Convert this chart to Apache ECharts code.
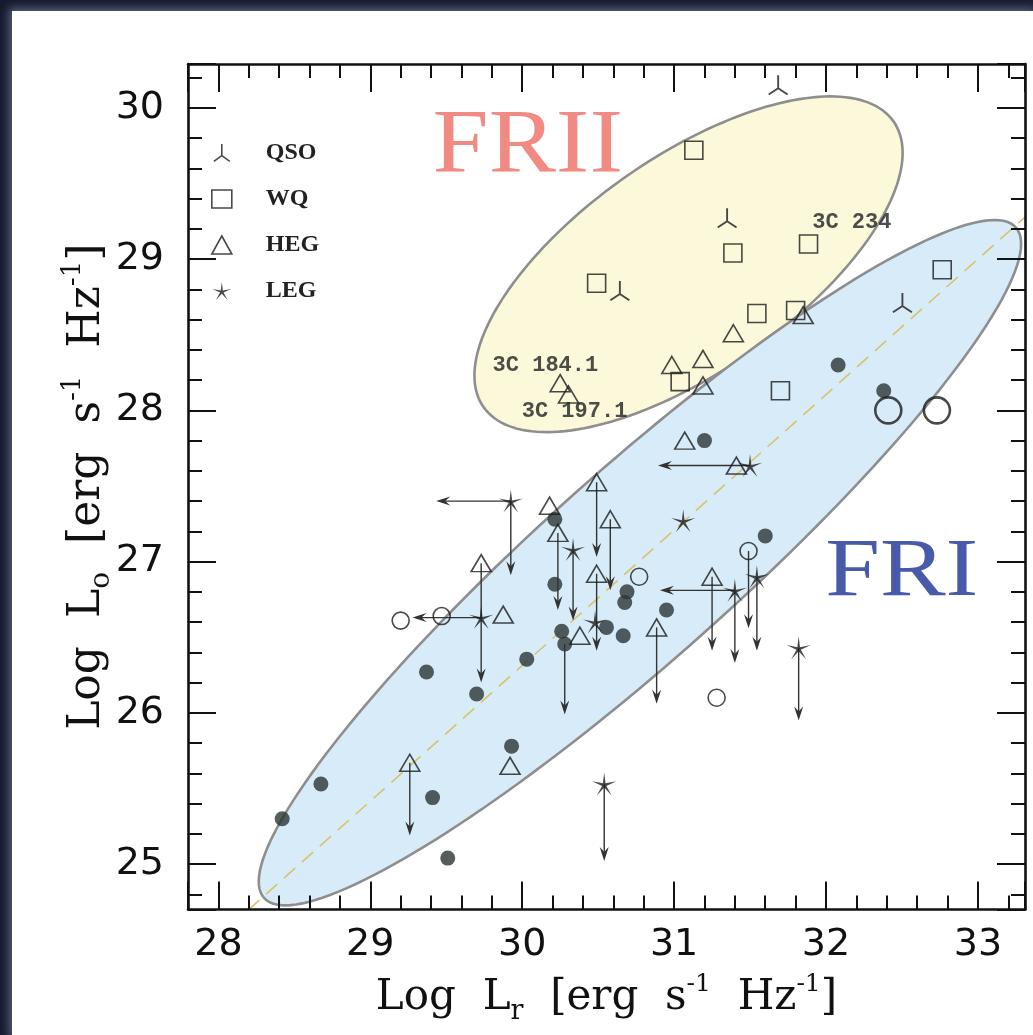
<!DOCTYPE html>
<html>
<head>
<meta charset="utf-8">
<script src="https://cdn.jsdelivr.net/npm/echarts@6/dist/echarts.min.js"></script>
<style>
  html, body { margin: 0; padding: 0; width: 1033px; height: 1035px; overflow: hidden; background: #151a2e; }
  #panel { position: absolute; left: 12px; top: 11px; right: 0; bottom: 0; background: #fff;
           box-shadow: 0 0 9px 3px rgba(150, 160, 190, 0.55); }
  #chart { position: absolute; left: 0; top: 0; width: 1033px; height: 1035px; }
</style>
</head>
<body>
<div id="panel"></div>
<div id="chart"></div>
<script>
// ---- axis extents and labelled ticks ----
const xRange = [27.8, 33.31];
const yRange = [24.7, 30.29];
const xLabels = [28, 29, 30, 31, 32, 33];
const yLabels = [25, 26, 27, 28, 29, 30];

// ---- sources: [log Lr, log Lo] ----
const qso = [[31.685, 30.15], [31.349, 29.27], [30.643, 28.79], [32.503, 28.71]];
const wq = [[31.13, 29.72], [31.387, 29.04], [31.885, 29.10], [32.765, 28.93], [31.545, 28.64],
            [31.80, 28.66], [31.70, 28.13], [31.04, 28.19], [30.49, 28.84]];
const heg = [[31.39, 28.51], [31.19, 28.34], [30.985, 28.30], [31.19, 28.165], [31.85, 28.63],
             [31.07, 27.80], [30.25, 28.18], [30.305, 28.105], [30.49, 27.525], [30.58, 27.28],
             [30.18, 27.37], [30.235, 27.19], [29.73, 26.99], [30.49, 26.92], [29.875, 26.65],
             [31.25, 26.90], [30.38, 26.51], [30.885, 26.565], [31.41, 27.635], [29.26, 25.67],
             [29.92, 25.65]];
const leg = [[29.925, 27.40], [30.335, 27.08], [31.06, 27.27], [31.50, 27.635], [31.40, 26.81],
             [31.545, 26.90], [30.48, 26.60], [31.82, 26.43], [30.54, 25.53], [29.73, 26.63]];
const fri = [[30.215, 27.28], [30.215, 26.85], [30.69, 26.80], [30.675, 26.73], [31.60, 27.17],
             [30.95, 26.68], [30.26, 26.54], [30.28, 26.455], [30.555, 26.565], [30.665, 26.51],
             [30.03, 26.355], [29.37, 26.27], [29.70, 26.125], [29.93, 25.78], [28.675, 25.53],
             [28.42, 25.30], [29.41, 25.44], [29.51, 25.04], [32.08, 28.30], [32.38, 28.13],
             [31.20, 27.80]];
const openSmall = [[30.77, 26.90], [31.49, 27.07], [31.28, 26.10], [29.47, 26.64], [29.20, 26.61]];
const openLarge = [[32.41, 28.0], [32.73, 28.0]];

// ---- limits: [x, y, y of arrow tip] and [x, y, x of arrow tip] ----
const upperLimits = [[29.73, 26.99, 26.20], [29.26, 25.67, 25.19], [30.49, 27.525, 27.03],
                     [30.58, 27.28, 26.81], [30.235, 27.19, 26.68], [30.49, 26.92, 26.41],
                     [31.25, 26.90, 26.41], [30.885, 26.565, 26.06], [29.925, 27.40, 26.91],
                     [30.335, 27.08, 26.61], [31.40, 26.81, 26.33], [31.545, 26.90, 26.41],
                     [31.49, 27.07, 26.56], [31.82, 26.43, 25.95], [30.54, 25.53, 25.02],
                     [30.28, 26.455, 25.99]];
const leftLimits = [[29.925, 27.40, 29.434], [31.50, 27.635, 30.894], [31.40, 26.81, 30.907],
                    [29.73, 26.63, 29.278]];

// ---- correlation line end points ----
const fitLine = [[28.196, 24.696], [33.31, 29.278]];

// ---- populations: [centre x, centre y, semi-major, semi-minor, tilt in degrees] ----
const regionFRII = [31.095, 28.966, 1.647, 0.711, 35];
const regionFRI = [30.775, 26.993, 3.322, 0.627, 41.86];

// ---- annotations: [text, x, y] ----
const sourceNames = [['3C 234', 31.909, 29.244], ['3C 184.1', 29.805, 28.297], ['3C 197.1', 29.997, 27.99]];
const classNames = [['FRII', 29.41, 29.733], ['FRI', 31.995, 26.924]];

// ---- marker shapes ----
function seg(x1, y1, x2, y2, w) {
  const dx = x2 - x1, dy = y2 - y1, L = Math.hypot(dx, dy);
  const nx = -dy / L * w / 2, ny = dx / L * w / 2;
  const f = v => v.toFixed(2);
  return 'M' + f(x1 + nx) + ' ' + f(y1 + ny) + 'L' + f(x2 + nx) + ' ' + f(y2 + ny) +
         'L' + f(x2 - nx) + ' ' + f(y2 - ny) + 'L' + f(x1 - nx) + ' ' + f(y1 - ny) + 'Z';
}
const qsoSymbol = 'path://' + seg(20, 0, 20, 27, 3.4) + seg(20, 25, 3, 37, 3.4) + seg(20, 25, 37, 37, 3.4);
function starSymbol(n, rOut, rIn) {
  let d = '';
  for (let i = 0; i < 2 * n; i++) {
    const r = i % 2 ? rIn : rOut;
    const a = -Math.PI / 2 + i * Math.PI / n;
    d += (i ? 'L' : 'M') + (50 + r * Math.cos(a)).toFixed(2) + ' ' + (50 + r * Math.sin(a)).toFixed(2);
  }
  return 'path://' + d + 'Z';
}
const legSymbol = starSymbol(5, 50, 9);

const ink = '#1c1c1c';
const openStyle = { color: 'rgba(255,255,255,0)', borderColor: ink, borderWidth: 1.6 };

// ---- axes ----
const isLabelled = (v, list) => Math.abs(v - Math.round(v)) < 1e-6 && list.indexOf(Math.round(v)) >= 0;
const axisFont = { fontFamily: 'DejaVu Sans', fontSize: 38, color: '#111' };
function titleRich(size) {
  const fam = 'DejaVu Serif';
  return {
    n: { fontFamily: fam, fontSize: size, lineHeight: Math.round(size * 1.28), color: '#111' },
    sub: { fontFamily: fam, fontSize: Math.round(size * 0.64), lineHeight: Math.round(size * 0.64),
           verticalAlign: 'bottom', color: '#111' },
    sup: { fontFamily: fam, fontSize: Math.round(size * 0.6), lineHeight: Math.round(size * 0.6),
           verticalAlign: 'top', color: '#111' }
  };
}

function makeAxis(pos, range, step, tickLen, opts) {
  const ax = {
    type: 'value', position: pos, min: range[0], max: range[1],
    minInterval: step, maxInterval: step, splitNumber: Math.round((range[1] - range[0]) / step),
    splitLine: { show: false },
    axisLine: { show: false },
    axisTick: { show: true, inside: true, length: tickLen, lineStyle: { color: '#111', width: 2 } },
    axisLabel: { show: false },
    z: 10
  };
  return Object.assign(ax, opts || {});
}
const frameLine = { show: true, lineStyle: { color: '#111', width: 2.6 } };

const xAxes = [
  makeAxis('bottom', xRange, 0.2, 14, {
    axisLine: frameLine,
    axisLabel: Object.assign({ show: true, margin: 17,
      formatter: v => isLabelled(v, xLabels) ? String(Math.round(v)) : '' }, axisFont),
    name: '{n|Log  L}{sub|r}{n|  [erg  s}{sup|-1}{n|  Hz}{sup|-1}{n|]}',
    nameLocation: 'middle', nameGap: 62, nameMoveOverlap: false, nameTextStyle: { rich: titleRich(42) }
  }),
  makeAxis('bottom', xRange, 1, 28),
  makeAxis('top', xRange, 0.2, 14, { axisLine: frameLine }),
  makeAxis('top', xRange, 1, 28)
];
const yAxes = [
  makeAxis('left', yRange, 0.2, 14, {
    axisLine: frameLine,
    axisLabel: Object.assign({ show: true, margin: 24,
      formatter: v => isLabelled(v, yLabels) ? String(Math.round(v)) : '' }, axisFont),
    name: '{n|Log  L}{sub|o}{n|  [erg  s}{sup|-1}{n|  Hz}{sup|-1}{n|]}',
    nameLocation: 'middle', nameGap: 72, nameMoveOverlap: false, nameTextStyle: { rich: titleRich(44) }
  }),
  makeAxis('left', yRange, 1, 28),
  makeAxis('right', yRange, 0.2, 14, { axisLine: frameLine }),
  makeAxis('right', yRange, 1, 28)
];

// ---- series ----
const regionFills = ['#fbf9d9', '#d7ecf8'];
const regionSeries = {
  type: 'custom', name: 'regions', silent: true, z: 1,
  data: [regionFRII, regionFRI],
  renderItem: function (params, api) {
    const cx = api.value(0), cy = api.value(1), a = api.value(2), b = api.value(3);
    const t0 = api.value(4) * Math.PI / 180;
    const pts = [];
    for (let i = 0; i < 180; i++) {
      const t = i / 180 * 2 * Math.PI;
      const ex = a * Math.cos(t), ey = b * Math.sin(t);
      pts.push(api.coord([cx + ex * Math.cos(t0) - ey * Math.sin(t0), cy + ex * Math.sin(t0) + ey * Math.cos(t0)]));
    }
    return { type: 'polygon', shape: { points: pts },
             style: { fill: regionFills[params.dataIndex], stroke: '#8e8e8e', lineWidth: 2.6 } };
  }
};

const fitSeries = {
  type: 'line', name: 'fit', data: fitLine, symbol: 'none', silent: true, z: 2,
  lineStyle: { color: '#d9c26c', width: 1.6, type: [15, 9] }
};

const arrowInk = '#333';
function downArrow(params, api) {
  const p0 = api.coord([api.value(0), api.value(1)]);
  const p1 = api.coord([api.value(0), api.value(2)]);
  return { type: 'group', children: [
    { type: 'line', shape: { x1: p0[0], y1: p0[1], x2: p1[0], y2: p1[1] - 6 }, style: { stroke: arrowInk, lineWidth: 1.4 } },
    { type: 'polygon', shape: { points: [[p1[0], p1[1]], [p1[0] - 4.5, p1[1] - 14], [p1[0], p1[1] - 9], [p1[0] + 4.5, p1[1] - 14]] },
      style: { fill: arrowInk } }
  ] };
}
function leftArrow(params, api) {
  const p0 = api.coord([api.value(0), api.value(1)]);
  const p1 = api.coord([api.value(2), api.value(1)]);
  return { type: 'group', children: [
    { type: 'line', shape: { x1: p0[0], y1: p0[1], x2: p1[0] + 6, y2: p1[1] }, style: { stroke: arrowInk, lineWidth: 1.4 } },
    { type: 'polygon', shape: { points: [[p1[0], p1[1]], [p1[0] + 14, p1[1] - 4.5], [p1[0] + 9, p1[1]], [p1[0] + 14, p1[1] + 4.5]] },
      style: { fill: arrowInk } }
  ] };
}

const series = [
  regionSeries,
  fitSeries,
  { type: 'custom', name: 'upper', data: upperLimits, renderItem: downArrow, silent: true, z: 3 },
  { type: 'custom', name: 'left', data: leftLimits, renderItem: leftArrow, silent: true, z: 3 },
  { type: 'scatter', name: 'core', data: fri, symbol: 'circle', symbolSize: 15, z: 4,
    itemStyle: { color: '#2a3434' } },
  { type: 'scatter', name: 'open', data: openSmall, symbol: 'circle', symbolSize: 17, z: 4, itemStyle: openStyle },
  { type: 'scatter', name: 'openLarge', data: openLarge, symbol: 'circle', symbolSize: 26, z: 4,
    itemStyle: { color: 'rgba(255,255,255,0)', borderColor: ink, borderWidth: 2.6 } },
  { type: 'scatter', name: 'QSO', data: qso, symbol: qsoSymbol, symbolSize: [20, 20], z: 4,
    itemStyle: { color: ink } },
  { type: 'scatter', name: 'WQ', data: wq, symbol: 'rect', symbolSize: 18, z: 4, itemStyle: openStyle },
  { type: 'scatter', name: 'HEG', data: heg, symbol: 'triangle', symbolSize: [20, 17], z: 4, itemStyle: openStyle },
  { type: 'scatter', name: 'LEG', data: leg, symbol: legSymbol, symbolSize: [24, 23], z: 4,
    itemStyle: { color: ink } },
  { type: 'scatter', name: 'names', silent: true, z: 5, symbolSize: 0,
    data: sourceNames.map(d => [d[1], d[2], d[0]]),
    label: { show: true, position: 'right', distance: 0, formatter: p => p.value[2],
             fontFamily: 'Liberation Mono', fontWeight: 'bold', fontSize: 22, color: '#222' } }
];

const chart = echarts.init(document.getElementById('chart'), null, { renderer: 'canvas' });
chart.setOption({
  backgroundColor: 'transparent',
  animation: false,
  grid: { left: 188, top: 64, right: 8, bottom: 125.5, containLabel: false },
  xAxis: xAxes,
  yAxis: yAxes,
  legend: {
    orient: 'vertical', left: 206, top: 136, itemWidth: 20, itemHeight: 18, itemGap: 22,
    selectedMode: false,
    textStyle: { fontFamily: 'Liberation Serif', fontWeight: 'bold', fontSize: 24, color: '#222',
                 padding: [0, 0, 0, 29] },
    data: [
      { name: 'QSO', icon: qsoSymbol, itemStyle: { color: ink } },
      { name: 'WQ', icon: 'rect', itemStyle: openStyle },
      { name: 'HEG', icon: 'triangle', itemStyle: openStyle },
      { name: 'LEG', icon: legSymbol, itemStyle: { color: ink } }
    ]
  },
  series: series
});

// Population names, anchored in data space and stretched slightly wider than the serif face.
const classStyles = [
  { color: '#f08a82', size: 90, stretch: 1.12 },
  { color: '#4a5aaa', size: 82, stretch: 1.2 }
];
chart.setOption({
  graphic: classNames.map((d, i) => {
    const p = chart.convertToPixel({ xAxisIndex: 0, yAxisIndex: 0 }, [d[1], d[2]]);
    const s = classStyles[i];
    return {
      type: 'text', x: p[0], y: p[1], scaleX: s.stretch, z: 5, silent: true,
      style: { text: d[0], x: 0, y: 0, fill: s.color, font: s.size + 'px "Liberation Serif"',
               textAlign: 'left', textVerticalAlign: 'middle' }
    };
  })
});
</script>
</body>
</html>
